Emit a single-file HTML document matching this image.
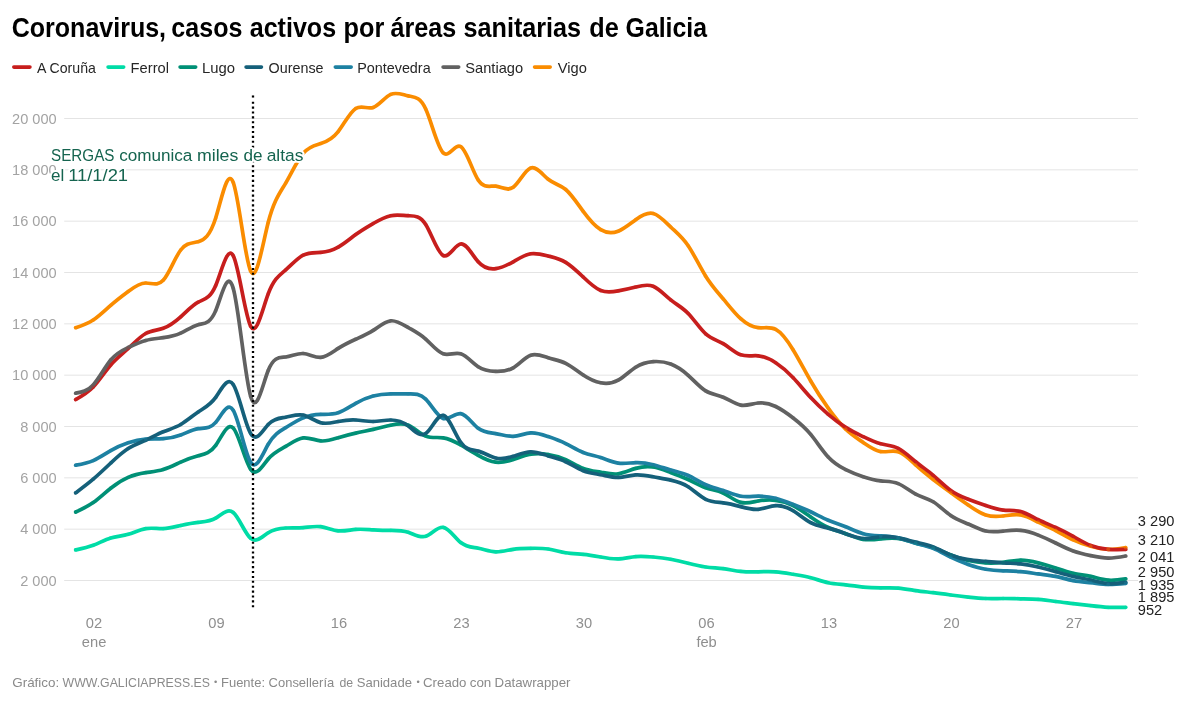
<!DOCTYPE html>
<html lang="es">
<head>
<meta charset="utf-8">
<title>Coronavirus, casos activos por áreas sanitarias de Galicia</title>
<style>
html,body{margin:0;padding:0;background:#fff;}
body{width:1199px;height:709px;overflow:hidden;}
svg{display:block;}
text{font-family:"Liberation Sans",sans-serif;}
.t{font-weight:bold;fill:#000;}
.lg{fill:#262626;}
.ax{fill:#a3a3a3;}
.axx{fill:#8f8f8f;}
.ft{fill:#8a8a8a;}
.vl{fill:#222;}
.an{fill:#15644f;}
</style>
</head>
<body>
<svg width="1199" height="709" viewBox="0 0 1199 709">
<rect width="1199" height="709" fill="#fff"/>
<text class="t" y="36.90" font-size="27.6"><tspan x="11.72" textLength="154.36" lengthAdjust="spacingAndGlyphs">Coronavirus,</tspan> <tspan x="171.32" textLength="71.10" lengthAdjust="spacingAndGlyphs">casos</tspan> <tspan x="249.71" textLength="86.41" lengthAdjust="spacingAndGlyphs">activos</tspan> <tspan x="343.52" textLength="40.74" lengthAdjust="spacingAndGlyphs">por</tspan> <tspan x="390.51" textLength="65.71" lengthAdjust="spacingAndGlyphs">áreas</tspan> <tspan x="463.51" textLength="117.61" lengthAdjust="spacingAndGlyphs">sanitarias</tspan> <tspan x="589.31" textLength="29.42" lengthAdjust="spacingAndGlyphs">de</tspan> <tspan x="625.62" textLength="81.42" lengthAdjust="spacingAndGlyphs">Galicia</tspan></text>
<line x1="13.80" y1="67.1" x2="29.95" y2="67.1" stroke="#c71e1d" stroke-width="3.6" stroke-linecap="round"/><text class="lg" y="72.80" font-size="14.4"><tspan x="37.00" textLength="58.91" lengthAdjust="spacingAndGlyphs">A Coruña</tspan></text>
<line x1="108.05" y1="67.1" x2="123.70" y2="67.1" stroke="#00dca6" stroke-width="3.6" stroke-linecap="round"/><text class="lg" y="72.80" font-size="14.4"><tspan x="130.60" textLength="38.37" lengthAdjust="spacingAndGlyphs">Ferrol</tspan></text>
<line x1="180.05" y1="67.1" x2="195.70" y2="67.1" stroke="#009076" stroke-width="3.6" stroke-linecap="round"/><text class="lg" y="72.80" font-size="14.4"><tspan x="202.09" textLength="33.01" lengthAdjust="spacingAndGlyphs">Lugo</tspan></text>
<line x1="246.05" y1="67.1" x2="261.45" y2="67.1" stroke="#15607a" stroke-width="3.6" stroke-linecap="round"/><text class="lg" y="72.80" font-size="14.4"><tspan x="268.58" textLength="55.00" lengthAdjust="spacingAndGlyphs">Ourense</tspan></text>
<line x1="335.30" y1="67.1" x2="351.20" y2="67.1" stroke="#1d81a2" stroke-width="3.6" stroke-linecap="round"/><text class="lg" y="72.80" font-size="14.4"><tspan x="357.13" textLength="73.53" lengthAdjust="spacingAndGlyphs">Pontevedra</tspan></text>
<line x1="443.05" y1="67.1" x2="458.70" y2="67.1" stroke="#616161" stroke-width="3.6" stroke-linecap="round"/><text class="lg" y="72.80" font-size="14.4"><tspan x="465.29" textLength="57.80" lengthAdjust="spacingAndGlyphs">Santiago</tspan></text>
<line x1="534.55" y1="67.1" x2="550.20" y2="67.1" stroke="#fa8c00" stroke-width="3.6" stroke-linecap="round"/><text class="lg" y="72.80" font-size="14.4"><tspan x="557.75" textLength="29.09" lengthAdjust="spacingAndGlyphs">Vigo</tspan></text>
<line x1="64.2" x2="1138" y1="580.50" y2="580.50" stroke="#e4e4e4" stroke-width="1"/><text class="ax" x="20.18" y="585.80" font-size="15.0" textLength="36.49" lengthAdjust="spacingAndGlyphs">2 000</text>
<line x1="64.2" x2="1138" y1="529.17" y2="529.17" stroke="#e4e4e4" stroke-width="1"/><text class="ax" x="20.18" y="534.47" font-size="15.0" textLength="36.49" lengthAdjust="spacingAndGlyphs">4 000</text>
<line x1="64.2" x2="1138" y1="477.83" y2="477.83" stroke="#e4e4e4" stroke-width="1"/><text class="ax" x="20.18" y="483.13" font-size="15.0" textLength="36.49" lengthAdjust="spacingAndGlyphs">6 000</text>
<line x1="64.2" x2="1138" y1="426.50" y2="426.50" stroke="#e4e4e4" stroke-width="1"/><text class="ax" x="20.18" y="431.80" font-size="15.0" textLength="36.49" lengthAdjust="spacingAndGlyphs">8 000</text>
<line x1="64.2" x2="1138" y1="375.16" y2="375.16" stroke="#e4e4e4" stroke-width="1"/><text class="ax" x="12.07" y="380.46" font-size="15.0" textLength="44.60" lengthAdjust="spacingAndGlyphs">10 000</text>
<line x1="64.2" x2="1138" y1="323.83" y2="323.83" stroke="#e4e4e4" stroke-width="1"/><text class="ax" x="12.07" y="329.13" font-size="15.0" textLength="44.60" lengthAdjust="spacingAndGlyphs">12 000</text>
<line x1="64.2" x2="1138" y1="272.50" y2="272.50" stroke="#e4e4e4" stroke-width="1"/><text class="ax" x="12.07" y="277.80" font-size="15.0" textLength="44.60" lengthAdjust="spacingAndGlyphs">14 000</text>
<line x1="64.2" x2="1138" y1="221.16" y2="221.16" stroke="#e4e4e4" stroke-width="1"/><text class="ax" x="12.07" y="226.46" font-size="15.0" textLength="44.60" lengthAdjust="spacingAndGlyphs">16 000</text>
<line x1="64.2" x2="1138" y1="169.83" y2="169.83" stroke="#e4e4e4" stroke-width="1"/><text class="ax" x="12.07" y="175.13" font-size="15.0" textLength="44.60" lengthAdjust="spacingAndGlyphs">18 000</text>
<line x1="64.2" x2="1138" y1="118.49" y2="118.49" stroke="#e4e4e4" stroke-width="1"/><text class="ax" x="12.07" y="123.79" font-size="15.0" textLength="44.60" lengthAdjust="spacingAndGlyphs">20 000</text>
<text class="axx" x="94.00" y="628.1" font-size="14.7" text-anchor="middle">02</text><text class="axx" x="216.50" y="628.1" font-size="14.7" text-anchor="middle">09</text><text class="axx" x="339.00" y="628.1" font-size="14.7" text-anchor="middle">16</text><text class="axx" x="461.50" y="628.1" font-size="14.7" text-anchor="middle">23</text><text class="axx" x="584.00" y="628.1" font-size="14.7" text-anchor="middle">30</text><text class="axx" x="706.50" y="628.1" font-size="14.7" text-anchor="middle">06</text><text class="axx" x="829.00" y="628.1" font-size="14.7" text-anchor="middle">13</text><text class="axx" x="951.50" y="628.1" font-size="14.7" text-anchor="middle">20</text><text class="axx" x="1074.00" y="628.1" font-size="14.7" text-anchor="middle">27</text><text class="axx" x="94.10" y="646.7" font-size="14.7" text-anchor="middle">ene</text><text class="axx" x="706.60" y="646.7" font-size="14.7" text-anchor="middle">feb</text>
<path d="M75.7,549.9C81.5,548.7,87.4,547.5,93.2,545.3C99.0,543.1,104.9,539.8,110.7,538.0C116.5,536.2,122.4,536.0,128.2,534.3C134.0,532.6,139.9,529.6,145.7,528.6C151.5,527.6,157.4,528.8,163.2,528.6C169.0,528.4,174.9,526.8,180.7,525.5C186.5,524.2,192.4,523.0,198.2,522.4C204.0,521.8,209.9,521.7,215.7,518.2C221.5,514.7,227.4,507.8,233.2,512.5C239.0,517.2,244.9,533.6,250.7,538.4C256.5,543.2,262.4,536.5,268.2,532.8C274.0,529.1,279.9,528.3,285.7,528.0C291.5,527.7,297.4,528.1,303.2,527.6C309.0,527.1,314.9,525.9,320.7,526.7C326.5,527.5,332.4,530.2,338.2,530.8C344.0,531.4,349.9,529.9,355.7,529.4C361.5,528.9,367.4,529.5,373.2,529.8C379.0,530.1,384.9,530.3,390.7,530.3C396.5,530.3,402.4,530.2,408.2,532.2C414.0,534.2,419.9,538.2,425.7,536.3C431.5,534.4,437.4,526.5,443.2,527.3C449.0,528.1,454.9,537.8,460.7,542.5C466.5,547.2,472.4,547.1,478.2,548.2C484.0,549.3,489.9,551.6,495.7,551.8C501.5,552.0,507.4,550.2,513.2,549.3C519.0,548.4,524.9,548.4,530.7,548.3C536.5,548.2,542.4,548.1,548.2,549.0C554.0,549.9,559.9,551.8,565.7,552.8C571.5,553.8,577.4,553.8,583.2,554.3C589.0,554.8,594.9,555.9,600.7,557.0C606.5,558.1,612.4,559.1,618.2,558.9C624.0,558.7,629.9,557.2,635.7,556.6C641.5,556.0,647.4,556.5,653.2,557.0C659.0,557.5,664.9,558.2,670.7,559.3C676.5,560.4,682.4,561.8,688.2,563.3C694.0,564.8,699.9,566.2,705.7,567.0C711.5,567.8,717.4,568.0,723.2,568.7C729.0,569.4,734.9,570.8,740.7,571.4C746.5,572.0,752.4,572.0,758.2,571.8C764.0,571.6,769.9,571.4,775.7,571.8C781.5,572.2,787.4,573.3,793.2,574.3C799.0,575.3,804.9,576.2,810.7,577.7C816.5,579.2,822.4,581.5,828.2,582.7C834.0,583.9,839.9,584.2,845.7,584.8C851.5,585.4,857.4,586.5,863.2,587.1C869.0,587.7,874.9,587.9,880.7,587.9C886.5,587.9,892.4,587.6,898.2,588.1C904.0,588.6,909.9,589.7,915.7,590.6C921.5,591.5,927.4,592.0,933.2,592.7C939.0,593.4,944.9,594.2,950.7,595.0C956.5,595.8,962.4,596.5,968.2,597.1C974.0,597.7,979.9,598.3,985.7,598.5C991.5,598.7,997.4,598.5,1003.2,598.5C1009.0,598.5,1014.9,598.7,1020.7,598.8C1026.5,598.9,1032.4,598.9,1038.2,599.4C1044.0,599.9,1049.9,600.7,1055.7,601.5C1061.5,602.3,1067.4,602.9,1073.2,603.6C1079.0,604.3,1084.9,604.9,1090.7,605.6C1096.5,606.3,1102.4,607.0,1108.2,607.3C1114.0,607.6,1119.9,607.4,1125.7,607.3" fill="none" stroke="#00dca6" stroke-width="3.7" stroke-linecap="round" stroke-linejoin="round"/>
<path d="M75.7,327.7C81.5,325.8,87.4,323.8,93.2,320.0C99.0,316.2,104.9,310.4,110.7,305.3C116.5,300.2,122.4,295.7,128.2,291.4C134.0,287.1,139.9,283.1,145.7,283.0C151.5,282.9,157.4,286.6,163.2,280.3C169.0,274.0,174.9,257.7,180.7,250.0C186.5,242.3,192.4,243.2,198.2,241.7C204.0,240.2,209.9,236.2,215.7,218.0C221.5,199.8,227.4,167.4,233.2,182.3C239.0,197.2,244.9,259.2,250.7,271.2C256.5,283.2,262.4,245.0,268.2,222.5C274.0,200.0,279.9,193.0,285.7,183.1C291.5,173.2,297.4,160.2,303.2,153.3C309.0,146.4,314.9,145.4,320.7,143.6C326.5,141.8,332.4,139.0,338.2,131.6C344.0,124.2,349.9,112.2,355.7,108.5C361.5,104.8,367.4,109.4,373.2,107.5C379.0,105.6,384.9,97.1,390.7,94.4C396.5,91.7,402.4,94.7,408.2,95.9C414.0,97.1,419.9,96.4,425.7,109.0C431.5,121.6,437.4,147.3,443.2,152.8C449.0,158.3,454.9,143.4,460.7,146.6C466.5,149.8,472.4,171.1,478.2,180.0C484.0,188.9,489.9,185.6,495.7,186.2C501.5,186.8,507.4,191.5,513.2,187.3C519.0,183.1,524.9,170.1,530.7,168.0C536.5,165.9,542.4,174.6,548.2,179.3C554.0,184.0,559.9,184.6,565.7,189.5C571.5,194.4,577.4,203.5,583.2,211.4C589.0,219.3,594.9,226.2,600.7,229.7C606.5,233.2,612.4,233.5,618.2,231.2C624.0,228.9,629.9,223.9,635.7,219.7C641.5,215.5,647.4,212.0,653.2,213.5C659.0,215.0,664.9,221.4,670.7,227.0C676.5,232.6,682.4,237.2,688.2,245.8C694.0,254.4,699.9,266.8,705.7,276.2C711.5,285.6,717.4,292.0,723.2,298.9C729.0,305.8,734.9,313.4,740.7,318.7C746.5,324.0,752.4,327.1,758.2,327.7C764.0,328.3,769.9,326.4,775.7,329.4C781.5,332.4,787.4,340.4,793.2,350.0C799.0,359.6,804.9,370.9,810.7,381.0C816.5,391.1,822.4,400.0,828.2,408.1C834.0,416.2,839.9,423.6,845.7,429.2C851.5,434.8,857.4,438.5,863.2,442.5C869.0,446.5,874.9,450.7,880.7,451.6C886.5,452.5,892.4,450.0,898.2,451.8C904.0,453.6,909.9,459.5,915.7,464.9C921.5,470.3,927.4,475.0,933.2,479.5C939.0,484.0,944.9,488.3,950.7,492.5C956.5,496.7,962.4,500.9,968.2,505.0C974.0,509.1,979.9,513.1,985.7,515.0C991.5,516.9,997.4,516.7,1003.2,516.0C1009.0,515.3,1014.9,514.0,1020.7,515.0C1026.5,516.0,1032.4,519.3,1038.2,522.2C1044.0,525.1,1049.9,527.5,1055.7,530.5C1061.5,533.5,1067.4,537.1,1073.2,539.9C1079.0,542.7,1084.9,544.6,1090.7,546.2C1096.5,547.8,1102.4,549.1,1108.2,549.3C1114.0,549.5,1119.9,548.5,1125.7,547.6" fill="none" stroke="#fa8c00" stroke-width="3.7" stroke-linecap="round" stroke-linejoin="round"/>
<path d="M75.7,512.0C81.5,509.4,87.4,506.7,93.2,502.6C99.0,498.5,104.9,492.8,110.7,488.2C116.5,483.6,122.4,479.9,128.2,477.4C134.0,474.9,139.9,473.6,145.7,472.7C151.5,471.8,157.4,471.3,163.2,469.5C169.0,467.7,174.9,464.7,180.7,462.1C186.5,459.5,192.4,457.3,198.2,455.8C204.0,454.3,209.9,453.5,215.7,445.4C221.5,437.3,227.4,422.0,233.2,428.0C239.0,434.0,244.9,461.3,250.7,469.3C256.5,477.3,262.4,465.9,268.2,459.0C274.0,452.1,279.9,449.8,285.7,446.4C291.5,443.0,297.4,438.6,303.2,437.9C309.0,437.2,314.9,440.3,320.7,440.9C326.5,441.5,332.4,439.5,338.2,437.7C344.0,435.9,349.9,434.4,355.7,433.1C361.5,431.8,367.4,430.7,373.2,429.4C379.0,428.1,384.9,426.5,390.7,425.2C396.5,423.9,402.4,422.7,408.2,425.2C414.0,427.7,419.9,433.8,425.7,436.1C431.5,438.4,437.4,437.0,443.2,437.8C449.0,438.6,454.9,441.6,460.7,445.0C466.5,448.4,472.4,452.0,478.2,455.3C484.0,458.6,489.9,461.5,495.7,462.2C501.5,462.9,507.4,461.4,513.2,459.5C519.0,457.6,524.9,455.3,530.7,454.3C536.5,453.3,542.4,453.6,548.2,454.5C554.0,455.4,559.9,456.9,565.7,459.6C571.5,462.3,577.4,466.2,583.2,468.4C589.0,470.6,594.9,471.2,600.7,472.2C606.5,473.2,612.4,474.6,618.2,473.8C624.0,473.0,629.9,470.1,635.7,468.4C641.5,466.7,647.4,466.1,653.2,467.0C659.0,467.9,664.9,470.4,670.7,472.6C676.5,474.8,682.4,476.8,688.2,479.5C694.0,482.2,699.9,485.8,705.7,487.8C711.5,489.8,717.4,490.2,723.2,493.0C729.0,495.8,734.9,500.8,740.7,502.4C746.5,504.0,752.4,502.1,758.2,501.0C764.0,499.9,769.9,499.6,775.7,500.3C781.5,501.0,787.4,502.6,793.2,505.6C799.0,508.6,804.9,512.9,810.7,517.0C816.5,521.1,822.4,524.9,828.2,527.5C834.0,530.1,839.9,531.6,845.7,533.7C851.5,535.8,857.4,538.5,863.2,539.4C869.0,540.3,874.9,539.6,880.7,538.9C886.5,538.2,892.4,537.7,898.2,538.5C904.0,539.3,909.9,541.5,915.7,543.1C921.5,544.7,927.4,545.7,933.2,547.7C939.0,549.7,944.9,552.6,950.7,555.0C956.5,557.4,962.4,559.2,968.2,560.5C974.0,561.8,979.9,562.6,985.7,562.9C991.5,563.2,997.4,563.0,1003.2,562.3C1009.0,561.6,1014.9,560.2,1020.7,560.2C1026.5,560.2,1032.4,561.4,1038.2,562.9C1044.0,564.4,1049.9,566.2,1055.7,568.1C1061.5,570.0,1067.4,572.0,1073.2,573.3C1079.0,574.6,1084.9,575.1,1090.7,576.4C1096.5,577.7,1102.4,579.7,1108.2,580.2C1114.0,580.7,1119.9,579.8,1125.7,578.9" fill="none" stroke="#009076" stroke-width="3.7" stroke-linecap="round" stroke-linejoin="round"/>
<path d="M75.7,465.2C81.5,464.2,87.4,463.2,93.2,460.6C99.0,458.0,104.9,454.0,110.7,450.6C116.5,447.2,122.4,444.6,128.2,442.7C134.0,440.8,139.9,439.5,145.7,439.1C151.5,438.7,157.4,439.1,163.2,438.7C169.0,438.3,174.9,437.2,180.7,435.0C186.5,432.8,192.4,429.6,198.2,428.7C204.0,427.8,209.9,429.2,215.7,422.4C221.5,415.6,227.4,400.8,233.2,410.3C239.0,419.8,244.9,453.8,250.7,462.4C256.5,471.0,262.4,454.3,268.2,444.3C274.0,434.3,279.9,431.1,285.7,427.6C291.5,424.1,297.4,420.3,303.2,417.9C309.0,415.5,314.9,414.6,320.7,414.4C326.5,414.2,332.4,414.6,338.2,412.7C344.0,410.8,349.9,406.6,355.7,403.3C361.5,400.0,367.4,397.5,373.2,396.0C379.0,394.5,384.9,394.0,390.7,393.9C396.5,393.8,402.4,394.0,408.2,393.9C414.0,393.8,419.9,393.4,425.7,399.1C431.5,404.8,437.4,416.5,443.2,418.5C449.0,420.5,454.9,412.9,460.7,413.7C466.5,414.5,472.4,423.8,478.2,428.3C484.0,432.8,489.9,432.7,495.7,433.6C501.5,434.5,507.4,436.6,513.2,436.3C519.0,436.0,524.9,433.3,530.7,432.9C536.5,432.5,542.4,434.6,548.2,436.6C554.0,438.6,559.9,440.7,565.7,443.6C571.5,446.5,577.4,450.2,583.2,452.5C589.0,454.8,594.9,455.7,600.7,457.6C606.5,459.5,612.4,462.3,618.2,463.1C624.0,463.9,629.9,462.8,635.7,462.6C641.5,462.4,647.4,463.2,653.2,464.7C659.0,466.2,664.9,468.3,670.7,470.0C676.5,471.7,682.4,472.9,688.2,475.5C694.0,478.1,699.9,482.1,705.7,484.7C711.5,487.3,717.4,488.5,723.2,490.5C729.0,492.5,734.9,495.2,740.7,496.2C746.5,497.2,752.4,496.3,758.2,496.2C764.0,496.1,769.9,496.8,775.7,498.3C781.5,499.8,787.4,502.2,793.2,504.5C799.0,506.8,804.9,509.1,810.7,511.8C816.5,514.5,822.4,517.7,828.2,520.2C834.0,522.7,839.9,524.4,845.7,526.8C851.5,529.2,857.4,532.1,863.2,533.7C869.0,535.3,874.9,535.5,880.7,535.8C886.5,536.1,892.4,536.6,898.2,537.9C904.0,539.2,909.9,541.4,915.7,543.1C921.5,544.8,927.4,545.9,933.2,548.3C939.0,550.7,944.9,554.3,950.7,557.2C956.5,560.1,962.4,562.4,968.2,564.4C974.0,566.4,979.9,568.2,985.7,569.2C991.5,570.2,997.4,570.6,1003.2,570.8C1009.0,571.0,1014.9,571.1,1020.7,571.6C1026.5,572.1,1032.4,573.1,1038.2,573.9C1044.0,574.7,1049.9,575.2,1055.7,576.4C1061.5,577.6,1067.4,579.5,1073.2,580.6C1079.0,581.7,1084.9,582.1,1090.7,582.7C1096.5,583.3,1102.4,584.3,1108.2,584.4C1114.0,584.5,1119.9,583.9,1125.7,583.3" fill="none" stroke="#1d81a2" stroke-width="3.7" stroke-linecap="round" stroke-linejoin="round"/>
<path d="M75.7,399.5C81.5,396.3,87.4,393.1,93.2,387.0C99.0,380.9,104.9,371.7,110.7,365.0C116.5,358.3,122.4,353.9,128.2,348.5C134.0,343.1,139.9,336.7,145.7,333.5C151.5,330.3,157.4,330.4,163.2,328.3C169.0,326.2,174.9,322.0,180.7,316.8C186.5,311.6,192.4,305.3,198.2,302.2C204.0,299.1,209.9,299.1,215.7,285.5C221.5,271.9,227.4,244.8,233.2,255.7C239.0,266.6,244.9,315.6,250.7,326.3C256.5,337.0,262.4,309.4,268.2,293.9C274.0,278.4,279.9,274.9,285.7,269.9C291.5,264.9,297.4,258.2,303.2,255.2C309.0,252.2,314.9,252.8,320.7,252.4C326.5,252.0,332.4,250.5,338.2,247.2C344.0,243.9,349.9,238.9,355.7,234.6C361.5,230.3,367.4,226.9,373.2,223.5C379.0,220.1,384.9,216.9,390.7,215.7C396.5,214.5,402.4,215.5,408.2,215.7C414.0,215.9,419.9,215.3,425.7,224.5C431.5,233.7,437.4,252.7,443.2,255.5C449.0,258.3,454.9,244.8,460.7,244.0C466.5,243.2,472.4,255.2,478.2,261.8C484.0,268.4,489.9,269.5,495.7,268.7C501.5,267.9,507.4,265.1,513.2,261.8C519.0,258.5,524.9,254.8,530.7,253.8C536.5,252.8,542.4,254.5,548.2,256.0C554.0,257.5,559.9,258.8,565.7,262.3C571.5,265.8,577.4,271.4,583.2,277.0C589.0,282.6,594.9,288.2,600.7,290.5C606.5,292.8,612.4,292.0,618.2,290.9C624.0,289.8,629.9,288.5,635.7,287.0C641.5,285.5,647.4,283.9,653.2,286.3C659.0,288.7,664.9,295.2,670.7,299.9C676.5,304.6,682.4,307.5,688.2,313.5C694.0,319.5,699.9,328.7,705.7,333.9C711.5,339.1,717.4,340.3,723.2,343.7C729.0,347.1,734.9,352.8,740.7,354.8C746.5,356.8,752.4,355.3,758.2,355.8C764.0,356.3,769.9,359.0,775.7,362.8C781.5,366.6,787.4,371.6,793.2,377.8C799.0,384.0,804.9,391.3,810.7,397.6C816.5,403.9,822.4,409.4,828.2,414.3C834.0,419.2,839.9,423.7,845.7,427.4C851.5,431.1,857.4,433.9,863.2,436.7C869.0,439.5,874.9,442.3,880.7,443.8C886.5,445.3,892.4,445.4,898.2,448.3C904.0,451.2,909.9,456.9,915.7,461.7C921.5,466.5,927.4,470.4,933.2,475.3C939.0,480.2,944.9,486.2,950.7,490.4C956.5,494.6,962.4,497.0,968.2,499.2C974.0,501.4,979.9,503.5,985.7,505.5C991.5,507.5,997.4,509.5,1003.2,510.1C1009.0,510.7,1014.9,510.1,1020.7,511.6C1026.5,513.1,1032.4,516.8,1038.2,519.7C1044.0,522.6,1049.9,524.8,1055.7,527.4C1061.5,530.0,1067.4,533.1,1073.2,536.4C1079.0,539.7,1084.9,543.2,1090.7,545.5C1096.5,547.8,1102.4,548.9,1108.2,549.3C1114.0,549.7,1119.9,549.6,1125.7,549.4" fill="none" stroke="#c71e1d" stroke-width="3.7" stroke-linecap="round" stroke-linejoin="round"/>
<path d="M75.7,393.2C81.5,392.2,87.4,391.2,93.2,384.9C99.0,378.6,104.9,367.1,110.7,360.0C116.5,352.9,122.4,350.2,128.2,347.5C134.0,344.8,139.9,342.1,145.7,340.5C151.5,338.9,157.4,338.5,163.2,337.7C169.0,336.9,174.9,335.8,180.7,333.1C186.5,330.4,192.4,326.2,198.2,324.7C204.0,323.2,209.9,324.4,215.7,310.6C221.5,296.8,227.4,268.1,233.2,288.2C239.0,308.3,244.9,377.3,250.7,396.5C256.5,415.7,262.4,385.0,268.2,370.5C274.0,356.0,279.9,357.7,285.7,357.0C291.5,356.3,297.4,353.1,303.2,353.5C309.0,353.9,314.9,357.8,320.7,357.4C326.5,357.0,332.4,352.2,338.2,348.4C344.0,344.6,349.9,341.8,355.7,339.2C361.5,336.6,367.4,334.2,373.2,330.4C379.0,326.6,384.9,321.4,390.7,320.8C396.5,320.2,402.4,324.1,408.2,327.5C414.0,330.9,419.9,333.9,425.7,339.1C431.5,344.3,437.4,351.9,443.2,353.8C449.0,355.7,454.9,352.0,460.7,353.8C466.5,355.6,472.4,362.9,478.2,366.8C484.0,370.7,489.9,371.2,495.7,371.4C501.5,371.6,507.4,371.3,513.2,367.8C519.0,364.3,524.9,357.4,530.7,355.3C536.5,353.2,542.4,356.0,548.2,357.8C554.0,359.6,559.9,360.4,565.7,363.3C571.5,366.2,577.4,371.1,583.2,375.0C589.0,378.9,594.9,381.7,600.7,382.8C606.5,383.9,612.4,383.4,618.2,380.1C624.0,376.8,629.9,370.9,635.7,367.2C641.5,363.5,647.4,362.0,653.2,361.6C659.0,361.2,664.9,361.8,670.7,364.0C676.5,366.2,682.4,370.0,688.2,375.3C694.0,380.6,699.9,387.3,705.7,390.9C711.5,394.5,717.4,394.8,723.2,397.2C729.0,399.6,734.9,404.1,740.7,405.1C746.5,406.1,752.4,403.6,758.2,403.0C764.0,402.4,769.9,403.7,775.7,406.5C781.5,409.3,787.4,413.5,793.2,418.0C799.0,422.5,804.9,427.4,810.7,434.4C816.5,441.4,822.4,450.7,828.2,457.0C834.0,463.3,839.9,466.8,845.7,469.7C851.5,472.6,857.4,474.9,863.2,476.8C869.0,478.7,874.9,480.3,880.7,480.9C886.5,481.5,892.4,481.2,898.2,483.6C904.0,486.0,909.9,491.0,915.7,494.1C921.5,497.2,927.4,498.2,933.2,501.8C939.0,505.4,944.9,511.5,950.7,515.5C956.5,519.5,962.4,521.5,968.2,524.0C974.0,526.5,979.9,529.7,985.7,531.0C991.5,532.3,997.4,531.7,1003.2,531.1C1009.0,530.5,1014.9,529.8,1020.7,530.4C1026.5,531.0,1032.4,532.8,1038.2,535.1C1044.0,537.4,1049.9,540.1,1055.7,543.0C1061.5,545.9,1067.4,548.9,1073.2,551.0C1079.0,553.1,1084.9,554.4,1090.7,555.6C1096.5,556.8,1102.4,558.0,1108.2,558.1C1114.0,558.2,1119.9,557.1,1125.7,556.0" fill="none" stroke="#616161" stroke-width="3.7" stroke-linecap="round" stroke-linejoin="round"/>
<path d="M75.7,492.8C81.5,488.5,87.4,484.2,93.2,479.2C99.0,474.2,104.9,468.6,110.7,463.1C116.5,457.6,122.4,452.2,128.2,448.5C134.0,444.8,139.9,442.8,145.7,440.2C151.5,437.6,157.4,434.2,163.2,431.8C169.0,429.4,174.9,427.9,180.7,424.5C186.5,421.1,192.4,415.9,198.2,412.0C204.0,408.1,209.9,405.5,215.7,397.4C221.5,389.3,227.4,375.8,233.2,384.5C239.0,393.2,244.9,424.2,250.7,433.6C256.5,443.0,262.4,430.7,268.2,424.5C274.0,418.3,279.9,418.3,285.7,417.2C291.5,416.1,297.4,413.8,303.2,415.1C309.0,416.4,314.9,421.1,320.7,422.7C326.5,424.3,332.4,422.6,338.2,421.5C344.0,420.4,349.9,419.7,355.7,420.0C361.5,420.3,367.4,421.6,373.2,421.5C379.0,421.4,384.9,420.0,390.7,420.0C396.5,420.0,402.4,421.4,408.2,425.8C414.0,430.2,419.9,437.6,425.7,433.6C431.5,429.6,437.4,414.3,443.2,415.4C449.0,416.5,454.9,434.0,460.7,442.3C466.5,450.6,472.4,449.6,478.2,451.1C484.0,452.6,489.9,456.6,495.7,458.0C501.5,459.4,507.4,458.2,513.2,456.3C519.0,454.4,524.9,451.9,530.7,451.8C536.5,451.7,542.4,454.1,548.2,455.9C554.0,457.7,559.9,459.0,565.7,461.7C571.5,464.4,577.4,468.4,583.2,470.7C589.0,473.0,594.9,473.6,600.7,474.7C606.5,475.8,612.4,477.5,618.2,477.4C624.0,477.3,629.9,475.3,635.7,474.9C641.5,474.5,647.4,475.7,653.2,476.8C659.0,477.9,664.9,478.8,670.7,480.1C676.5,481.4,682.4,483.0,688.2,486.8C694.0,490.6,699.9,496.4,705.7,499.3C711.5,502.2,717.4,502.1,723.2,502.8C729.0,503.5,734.9,505.0,740.7,506.6C746.5,508.2,752.4,509.8,758.2,509.3C764.0,508.8,769.9,506.0,775.7,505.6C781.5,505.2,787.4,507.2,793.2,510.8C799.0,514.4,804.9,519.6,810.7,522.7C816.5,525.8,822.4,526.6,828.2,528.1C834.0,529.6,839.9,531.6,845.7,533.7C851.5,535.8,857.4,538.1,863.2,538.5C869.0,538.9,874.9,537.4,880.7,536.9C886.5,536.4,892.4,536.8,898.2,537.9C904.0,539.0,909.9,540.7,915.7,542.1C921.5,543.5,927.4,544.6,933.2,546.9C939.0,549.2,944.9,552.6,950.7,555.0C956.5,557.4,962.4,558.8,968.2,559.7C974.0,560.6,979.9,560.9,985.7,561.4C991.5,561.9,997.4,562.5,1003.2,562.9C1009.0,563.3,1014.9,563.3,1020.7,563.9C1026.5,564.5,1032.4,565.6,1038.2,567.0C1044.0,568.4,1049.9,569.9,1055.7,571.6C1061.5,573.3,1067.4,575.1,1073.2,576.4C1079.0,577.7,1084.9,578.6,1090.7,580.0C1096.5,581.4,1102.4,583.2,1108.2,583.7C1114.0,584.2,1119.9,583.2,1125.7,582.3" fill="none" stroke="#15607a" stroke-width="3.7" stroke-linecap="round" stroke-linejoin="round"/>
<g fill="#c71e1d" opacity="0.4"><circle cx="75.7" cy="399.5" r="1.9"/><circle cx="93.2" cy="387.0" r="1.9"/><circle cx="110.7" cy="365.0" r="1.9"/><circle cx="128.2" cy="348.5" r="1.9"/><circle cx="145.7" cy="333.5" r="1.9"/><circle cx="163.2" cy="328.3" r="1.9"/><circle cx="180.7" cy="316.8" r="1.9"/><circle cx="198.2" cy="302.2" r="1.9"/><circle cx="215.7" cy="285.5" r="1.9"/><circle cx="233.2" cy="255.7" r="1.9"/><circle cx="250.7" cy="326.3" r="1.9"/><circle cx="268.2" cy="293.9" r="1.9"/><circle cx="285.7" cy="269.9" r="1.9"/><circle cx="303.2" cy="255.2" r="1.9"/><circle cx="320.7" cy="252.4" r="1.9"/><circle cx="338.2" cy="247.2" r="1.9"/><circle cx="355.7" cy="234.6" r="1.9"/><circle cx="373.2" cy="223.5" r="1.9"/><circle cx="390.7" cy="215.7" r="1.9"/><circle cx="408.2" cy="215.7" r="1.9"/><circle cx="425.7" cy="224.5" r="1.9"/><circle cx="443.2" cy="255.5" r="1.9"/><circle cx="460.7" cy="244.0" r="1.9"/><circle cx="478.2" cy="261.8" r="1.9"/><circle cx="495.7" cy="268.7" r="1.9"/><circle cx="513.2" cy="261.8" r="1.9"/><circle cx="530.7" cy="253.8" r="1.9"/><circle cx="548.2" cy="256.0" r="1.9"/><circle cx="565.7" cy="262.3" r="1.9"/><circle cx="583.2" cy="277.0" r="1.9"/><circle cx="600.7" cy="290.5" r="1.9"/><circle cx="618.2" cy="290.9" r="1.9"/><circle cx="635.7" cy="287.0" r="1.9"/><circle cx="653.2" cy="286.3" r="1.9"/><circle cx="670.7" cy="299.9" r="1.9"/><circle cx="688.2" cy="313.5" r="1.9"/><circle cx="705.7" cy="333.9" r="1.9"/><circle cx="723.2" cy="343.7" r="1.9"/><circle cx="740.7" cy="354.8" r="1.9"/><circle cx="758.2" cy="355.8" r="1.9"/><circle cx="775.7" cy="362.8" r="1.9"/><circle cx="793.2" cy="377.8" r="1.9"/><circle cx="810.7" cy="397.6" r="1.9"/><circle cx="828.2" cy="414.3" r="1.9"/><circle cx="845.7" cy="427.4" r="1.9"/><circle cx="863.2" cy="436.7" r="1.9"/><circle cx="880.7" cy="443.8" r="1.9"/><circle cx="898.2" cy="448.3" r="1.9"/><circle cx="915.7" cy="461.7" r="1.9"/><circle cx="933.2" cy="475.3" r="1.9"/><circle cx="950.7" cy="490.4" r="1.9"/><circle cx="968.2" cy="499.2" r="1.9"/><circle cx="985.7" cy="505.5" r="1.9"/><circle cx="1003.2" cy="510.1" r="1.9"/><circle cx="1020.7" cy="511.6" r="1.9"/><circle cx="1038.2" cy="519.7" r="1.9"/><circle cx="1055.7" cy="527.4" r="1.9"/><circle cx="1073.2" cy="536.4" r="1.9"/><circle cx="1090.7" cy="545.5" r="1.9"/><circle cx="1108.2" cy="549.3" r="1.9"/><circle cx="1125.7" cy="549.4" r="1.9"/></g>
<g fill="#00dca6" opacity="0.4"><circle cx="75.7" cy="549.9" r="1.9"/><circle cx="93.2" cy="545.3" r="1.9"/><circle cx="110.7" cy="538.0" r="1.9"/><circle cx="128.2" cy="534.3" r="1.9"/><circle cx="145.7" cy="528.6" r="1.9"/><circle cx="163.2" cy="528.6" r="1.9"/><circle cx="180.7" cy="525.5" r="1.9"/><circle cx="198.2" cy="522.4" r="1.9"/><circle cx="215.7" cy="518.2" r="1.9"/><circle cx="233.2" cy="512.5" r="1.9"/><circle cx="250.7" cy="538.4" r="1.9"/><circle cx="268.2" cy="532.8" r="1.9"/><circle cx="285.7" cy="528.0" r="1.9"/><circle cx="303.2" cy="527.6" r="1.9"/><circle cx="320.7" cy="526.7" r="1.9"/><circle cx="338.2" cy="530.8" r="1.9"/><circle cx="355.7" cy="529.4" r="1.9"/><circle cx="373.2" cy="529.8" r="1.9"/><circle cx="390.7" cy="530.3" r="1.9"/><circle cx="408.2" cy="532.2" r="1.9"/><circle cx="425.7" cy="536.3" r="1.9"/><circle cx="443.2" cy="527.3" r="1.9"/><circle cx="460.7" cy="542.5" r="1.9"/><circle cx="478.2" cy="548.2" r="1.9"/><circle cx="495.7" cy="551.8" r="1.9"/><circle cx="513.2" cy="549.3" r="1.9"/><circle cx="530.7" cy="548.3" r="1.9"/><circle cx="548.2" cy="549.0" r="1.9"/><circle cx="565.7" cy="552.8" r="1.9"/><circle cx="583.2" cy="554.3" r="1.9"/><circle cx="600.7" cy="557.0" r="1.9"/><circle cx="618.2" cy="558.9" r="1.9"/><circle cx="635.7" cy="556.6" r="1.9"/><circle cx="653.2" cy="557.0" r="1.9"/><circle cx="670.7" cy="559.3" r="1.9"/><circle cx="688.2" cy="563.3" r="1.9"/><circle cx="705.7" cy="567.0" r="1.9"/><circle cx="723.2" cy="568.7" r="1.9"/><circle cx="740.7" cy="571.4" r="1.9"/><circle cx="758.2" cy="571.8" r="1.9"/><circle cx="775.7" cy="571.8" r="1.9"/><circle cx="793.2" cy="574.3" r="1.9"/><circle cx="810.7" cy="577.7" r="1.9"/><circle cx="828.2" cy="582.7" r="1.9"/><circle cx="845.7" cy="584.8" r="1.9"/><circle cx="863.2" cy="587.1" r="1.9"/><circle cx="880.7" cy="587.9" r="1.9"/><circle cx="898.2" cy="588.1" r="1.9"/><circle cx="915.7" cy="590.6" r="1.9"/><circle cx="933.2" cy="592.7" r="1.9"/><circle cx="950.7" cy="595.0" r="1.9"/><circle cx="968.2" cy="597.1" r="1.9"/><circle cx="985.7" cy="598.5" r="1.9"/><circle cx="1003.2" cy="598.5" r="1.9"/><circle cx="1020.7" cy="598.8" r="1.9"/><circle cx="1038.2" cy="599.4" r="1.9"/><circle cx="1055.7" cy="601.5" r="1.9"/><circle cx="1073.2" cy="603.6" r="1.9"/><circle cx="1090.7" cy="605.6" r="1.9"/><circle cx="1108.2" cy="607.3" r="1.9"/><circle cx="1125.7" cy="607.3" r="1.9"/></g>
<g fill="#009076" opacity="0.4"><circle cx="75.7" cy="512.0" r="1.9"/><circle cx="93.2" cy="502.6" r="1.9"/><circle cx="110.7" cy="488.2" r="1.9"/><circle cx="128.2" cy="477.4" r="1.9"/><circle cx="145.7" cy="472.7" r="1.9"/><circle cx="163.2" cy="469.5" r="1.9"/><circle cx="180.7" cy="462.1" r="1.9"/><circle cx="198.2" cy="455.8" r="1.9"/><circle cx="215.7" cy="445.4" r="1.9"/><circle cx="233.2" cy="428.0" r="1.9"/><circle cx="250.7" cy="469.3" r="1.9"/><circle cx="268.2" cy="459.0" r="1.9"/><circle cx="285.7" cy="446.4" r="1.9"/><circle cx="303.2" cy="437.9" r="1.9"/><circle cx="320.7" cy="440.9" r="1.9"/><circle cx="338.2" cy="437.7" r="1.9"/><circle cx="355.7" cy="433.1" r="1.9"/><circle cx="373.2" cy="429.4" r="1.9"/><circle cx="390.7" cy="425.2" r="1.9"/><circle cx="408.2" cy="425.2" r="1.9"/><circle cx="425.7" cy="436.1" r="1.9"/><circle cx="443.2" cy="437.8" r="1.9"/><circle cx="460.7" cy="445.0" r="1.9"/><circle cx="478.2" cy="455.3" r="1.9"/><circle cx="495.7" cy="462.2" r="1.9"/><circle cx="513.2" cy="459.5" r="1.9"/><circle cx="530.7" cy="454.3" r="1.9"/><circle cx="548.2" cy="454.5" r="1.9"/><circle cx="565.7" cy="459.6" r="1.9"/><circle cx="583.2" cy="468.4" r="1.9"/><circle cx="600.7" cy="472.2" r="1.9"/><circle cx="618.2" cy="473.8" r="1.9"/><circle cx="635.7" cy="468.4" r="1.9"/><circle cx="653.2" cy="467.0" r="1.9"/><circle cx="670.7" cy="472.6" r="1.9"/><circle cx="688.2" cy="479.5" r="1.9"/><circle cx="705.7" cy="487.8" r="1.9"/><circle cx="723.2" cy="493.0" r="1.9"/><circle cx="740.7" cy="502.4" r="1.9"/><circle cx="758.2" cy="501.0" r="1.9"/><circle cx="775.7" cy="500.3" r="1.9"/><circle cx="793.2" cy="505.6" r="1.9"/><circle cx="810.7" cy="517.0" r="1.9"/><circle cx="828.2" cy="527.5" r="1.9"/><circle cx="845.7" cy="533.7" r="1.9"/><circle cx="863.2" cy="539.4" r="1.9"/><circle cx="880.7" cy="538.9" r="1.9"/><circle cx="898.2" cy="538.5" r="1.9"/><circle cx="915.7" cy="543.1" r="1.9"/><circle cx="933.2" cy="547.7" r="1.9"/><circle cx="950.7" cy="555.0" r="1.9"/><circle cx="968.2" cy="560.5" r="1.9"/><circle cx="985.7" cy="562.9" r="1.9"/><circle cx="1003.2" cy="562.3" r="1.9"/><circle cx="1020.7" cy="560.2" r="1.9"/><circle cx="1038.2" cy="562.9" r="1.9"/><circle cx="1055.7" cy="568.1" r="1.9"/><circle cx="1073.2" cy="573.3" r="1.9"/><circle cx="1090.7" cy="576.4" r="1.9"/><circle cx="1108.2" cy="580.2" r="1.9"/><circle cx="1125.7" cy="578.9" r="1.9"/></g>
<g fill="#15607a" opacity="0.4"><circle cx="75.7" cy="492.8" r="1.9"/><circle cx="93.2" cy="479.2" r="1.9"/><circle cx="110.7" cy="463.1" r="1.9"/><circle cx="128.2" cy="448.5" r="1.9"/><circle cx="145.7" cy="440.2" r="1.9"/><circle cx="163.2" cy="431.8" r="1.9"/><circle cx="180.7" cy="424.5" r="1.9"/><circle cx="198.2" cy="412.0" r="1.9"/><circle cx="215.7" cy="397.4" r="1.9"/><circle cx="233.2" cy="384.5" r="1.9"/><circle cx="250.7" cy="433.6" r="1.9"/><circle cx="268.2" cy="424.5" r="1.9"/><circle cx="285.7" cy="417.2" r="1.9"/><circle cx="303.2" cy="415.1" r="1.9"/><circle cx="320.7" cy="422.7" r="1.9"/><circle cx="338.2" cy="421.5" r="1.9"/><circle cx="355.7" cy="420.0" r="1.9"/><circle cx="373.2" cy="421.5" r="1.9"/><circle cx="390.7" cy="420.0" r="1.9"/><circle cx="408.2" cy="425.8" r="1.9"/><circle cx="425.7" cy="433.6" r="1.9"/><circle cx="443.2" cy="415.4" r="1.9"/><circle cx="460.7" cy="442.3" r="1.9"/><circle cx="478.2" cy="451.1" r="1.9"/><circle cx="495.7" cy="458.0" r="1.9"/><circle cx="513.2" cy="456.3" r="1.9"/><circle cx="530.7" cy="451.8" r="1.9"/><circle cx="548.2" cy="455.9" r="1.9"/><circle cx="565.7" cy="461.7" r="1.9"/><circle cx="583.2" cy="470.7" r="1.9"/><circle cx="600.7" cy="474.7" r="1.9"/><circle cx="618.2" cy="477.4" r="1.9"/><circle cx="635.7" cy="474.9" r="1.9"/><circle cx="653.2" cy="476.8" r="1.9"/><circle cx="670.7" cy="480.1" r="1.9"/><circle cx="688.2" cy="486.8" r="1.9"/><circle cx="705.7" cy="499.3" r="1.9"/><circle cx="723.2" cy="502.8" r="1.9"/><circle cx="740.7" cy="506.6" r="1.9"/><circle cx="758.2" cy="509.3" r="1.9"/><circle cx="775.7" cy="505.6" r="1.9"/><circle cx="793.2" cy="510.8" r="1.9"/><circle cx="810.7" cy="522.7" r="1.9"/><circle cx="828.2" cy="528.1" r="1.9"/><circle cx="845.7" cy="533.7" r="1.9"/><circle cx="863.2" cy="538.5" r="1.9"/><circle cx="880.7" cy="536.9" r="1.9"/><circle cx="898.2" cy="537.9" r="1.9"/><circle cx="915.7" cy="542.1" r="1.9"/><circle cx="933.2" cy="546.9" r="1.9"/><circle cx="950.7" cy="555.0" r="1.9"/><circle cx="968.2" cy="559.7" r="1.9"/><circle cx="985.7" cy="561.4" r="1.9"/><circle cx="1003.2" cy="562.9" r="1.9"/><circle cx="1020.7" cy="563.9" r="1.9"/><circle cx="1038.2" cy="567.0" r="1.9"/><circle cx="1055.7" cy="571.6" r="1.9"/><circle cx="1073.2" cy="576.4" r="1.9"/><circle cx="1090.7" cy="580.0" r="1.9"/><circle cx="1108.2" cy="583.7" r="1.9"/><circle cx="1125.7" cy="582.3" r="1.9"/></g>
<g fill="#1d81a2" opacity="0.4"><circle cx="75.7" cy="465.2" r="1.9"/><circle cx="93.2" cy="460.6" r="1.9"/><circle cx="110.7" cy="450.6" r="1.9"/><circle cx="128.2" cy="442.7" r="1.9"/><circle cx="145.7" cy="439.1" r="1.9"/><circle cx="163.2" cy="438.7" r="1.9"/><circle cx="180.7" cy="435.0" r="1.9"/><circle cx="198.2" cy="428.7" r="1.9"/><circle cx="215.7" cy="422.4" r="1.9"/><circle cx="233.2" cy="410.3" r="1.9"/><circle cx="250.7" cy="462.4" r="1.9"/><circle cx="268.2" cy="444.3" r="1.9"/><circle cx="285.7" cy="427.6" r="1.9"/><circle cx="303.2" cy="417.9" r="1.9"/><circle cx="320.7" cy="414.4" r="1.9"/><circle cx="338.2" cy="412.7" r="1.9"/><circle cx="355.7" cy="403.3" r="1.9"/><circle cx="373.2" cy="396.0" r="1.9"/><circle cx="390.7" cy="393.9" r="1.9"/><circle cx="408.2" cy="393.9" r="1.9"/><circle cx="425.7" cy="399.1" r="1.9"/><circle cx="443.2" cy="418.5" r="1.9"/><circle cx="460.7" cy="413.7" r="1.9"/><circle cx="478.2" cy="428.3" r="1.9"/><circle cx="495.7" cy="433.6" r="1.9"/><circle cx="513.2" cy="436.3" r="1.9"/><circle cx="530.7" cy="432.9" r="1.9"/><circle cx="548.2" cy="436.6" r="1.9"/><circle cx="565.7" cy="443.6" r="1.9"/><circle cx="583.2" cy="452.5" r="1.9"/><circle cx="600.7" cy="457.6" r="1.9"/><circle cx="618.2" cy="463.1" r="1.9"/><circle cx="635.7" cy="462.6" r="1.9"/><circle cx="653.2" cy="464.7" r="1.9"/><circle cx="670.7" cy="470.0" r="1.9"/><circle cx="688.2" cy="475.5" r="1.9"/><circle cx="705.7" cy="484.7" r="1.9"/><circle cx="723.2" cy="490.5" r="1.9"/><circle cx="740.7" cy="496.2" r="1.9"/><circle cx="758.2" cy="496.2" r="1.9"/><circle cx="775.7" cy="498.3" r="1.9"/><circle cx="793.2" cy="504.5" r="1.9"/><circle cx="810.7" cy="511.8" r="1.9"/><circle cx="828.2" cy="520.2" r="1.9"/><circle cx="845.7" cy="526.8" r="1.9"/><circle cx="863.2" cy="533.7" r="1.9"/><circle cx="880.7" cy="535.8" r="1.9"/><circle cx="898.2" cy="537.9" r="1.9"/><circle cx="915.7" cy="543.1" r="1.9"/><circle cx="933.2" cy="548.3" r="1.9"/><circle cx="950.7" cy="557.2" r="1.9"/><circle cx="968.2" cy="564.4" r="1.9"/><circle cx="985.7" cy="569.2" r="1.9"/><circle cx="1003.2" cy="570.8" r="1.9"/><circle cx="1020.7" cy="571.6" r="1.9"/><circle cx="1038.2" cy="573.9" r="1.9"/><circle cx="1055.7" cy="576.4" r="1.9"/><circle cx="1073.2" cy="580.6" r="1.9"/><circle cx="1090.7" cy="582.7" r="1.9"/><circle cx="1108.2" cy="584.4" r="1.9"/><circle cx="1125.7" cy="583.3" r="1.9"/></g>
<g fill="#616161" opacity="0.4"><circle cx="75.7" cy="393.2" r="1.9"/><circle cx="93.2" cy="384.9" r="1.9"/><circle cx="110.7" cy="360.0" r="1.9"/><circle cx="128.2" cy="347.5" r="1.9"/><circle cx="145.7" cy="340.5" r="1.9"/><circle cx="163.2" cy="337.7" r="1.9"/><circle cx="180.7" cy="333.1" r="1.9"/><circle cx="198.2" cy="324.7" r="1.9"/><circle cx="215.7" cy="310.6" r="1.9"/><circle cx="233.2" cy="288.2" r="1.9"/><circle cx="250.7" cy="396.5" r="1.9"/><circle cx="268.2" cy="370.5" r="1.9"/><circle cx="285.7" cy="357.0" r="1.9"/><circle cx="303.2" cy="353.5" r="1.9"/><circle cx="320.7" cy="357.4" r="1.9"/><circle cx="338.2" cy="348.4" r="1.9"/><circle cx="355.7" cy="339.2" r="1.9"/><circle cx="373.2" cy="330.4" r="1.9"/><circle cx="390.7" cy="320.8" r="1.9"/><circle cx="408.2" cy="327.5" r="1.9"/><circle cx="425.7" cy="339.1" r="1.9"/><circle cx="443.2" cy="353.8" r="1.9"/><circle cx="460.7" cy="353.8" r="1.9"/><circle cx="478.2" cy="366.8" r="1.9"/><circle cx="495.7" cy="371.4" r="1.9"/><circle cx="513.2" cy="367.8" r="1.9"/><circle cx="530.7" cy="355.3" r="1.9"/><circle cx="548.2" cy="357.8" r="1.9"/><circle cx="565.7" cy="363.3" r="1.9"/><circle cx="583.2" cy="375.0" r="1.9"/><circle cx="600.7" cy="382.8" r="1.9"/><circle cx="618.2" cy="380.1" r="1.9"/><circle cx="635.7" cy="367.2" r="1.9"/><circle cx="653.2" cy="361.6" r="1.9"/><circle cx="670.7" cy="364.0" r="1.9"/><circle cx="688.2" cy="375.3" r="1.9"/><circle cx="705.7" cy="390.9" r="1.9"/><circle cx="723.2" cy="397.2" r="1.9"/><circle cx="740.7" cy="405.1" r="1.9"/><circle cx="758.2" cy="403.0" r="1.9"/><circle cx="775.7" cy="406.5" r="1.9"/><circle cx="793.2" cy="418.0" r="1.9"/><circle cx="810.7" cy="434.4" r="1.9"/><circle cx="828.2" cy="457.0" r="1.9"/><circle cx="845.7" cy="469.7" r="1.9"/><circle cx="863.2" cy="476.8" r="1.9"/><circle cx="880.7" cy="480.9" r="1.9"/><circle cx="898.2" cy="483.6" r="1.9"/><circle cx="915.7" cy="494.1" r="1.9"/><circle cx="933.2" cy="501.8" r="1.9"/><circle cx="950.7" cy="515.5" r="1.9"/><circle cx="968.2" cy="524.0" r="1.9"/><circle cx="985.7" cy="531.0" r="1.9"/><circle cx="1003.2" cy="531.1" r="1.9"/><circle cx="1020.7" cy="530.4" r="1.9"/><circle cx="1038.2" cy="535.1" r="1.9"/><circle cx="1055.7" cy="543.0" r="1.9"/><circle cx="1073.2" cy="551.0" r="1.9"/><circle cx="1090.7" cy="555.6" r="1.9"/><circle cx="1108.2" cy="558.1" r="1.9"/><circle cx="1125.7" cy="556.0" r="1.9"/></g>
<g fill="#fa8c00" opacity="0.4"><circle cx="75.7" cy="327.7" r="1.9"/><circle cx="93.2" cy="320.0" r="1.9"/><circle cx="110.7" cy="305.3" r="1.9"/><circle cx="128.2" cy="291.4" r="1.9"/><circle cx="145.7" cy="283.0" r="1.9"/><circle cx="163.2" cy="280.3" r="1.9"/><circle cx="180.7" cy="250.0" r="1.9"/><circle cx="198.2" cy="241.7" r="1.9"/><circle cx="215.7" cy="218.0" r="1.9"/><circle cx="233.2" cy="182.3" r="1.9"/><circle cx="250.7" cy="271.2" r="1.9"/><circle cx="268.2" cy="222.5" r="1.9"/><circle cx="285.7" cy="183.1" r="1.9"/><circle cx="303.2" cy="153.3" r="1.9"/><circle cx="320.7" cy="143.6" r="1.9"/><circle cx="338.2" cy="131.6" r="1.9"/><circle cx="355.7" cy="108.5" r="1.9"/><circle cx="373.2" cy="107.5" r="1.9"/><circle cx="390.7" cy="94.4" r="1.9"/><circle cx="408.2" cy="95.9" r="1.9"/><circle cx="425.7" cy="109.0" r="1.9"/><circle cx="443.2" cy="152.8" r="1.9"/><circle cx="460.7" cy="146.6" r="1.9"/><circle cx="478.2" cy="180.0" r="1.9"/><circle cx="495.7" cy="186.2" r="1.9"/><circle cx="513.2" cy="187.3" r="1.9"/><circle cx="530.7" cy="168.0" r="1.9"/><circle cx="548.2" cy="179.3" r="1.9"/><circle cx="565.7" cy="189.5" r="1.9"/><circle cx="583.2" cy="211.4" r="1.9"/><circle cx="600.7" cy="229.7" r="1.9"/><circle cx="618.2" cy="231.2" r="1.9"/><circle cx="635.7" cy="219.7" r="1.9"/><circle cx="653.2" cy="213.5" r="1.9"/><circle cx="670.7" cy="227.0" r="1.9"/><circle cx="688.2" cy="245.8" r="1.9"/><circle cx="705.7" cy="276.2" r="1.9"/><circle cx="723.2" cy="298.9" r="1.9"/><circle cx="740.7" cy="318.7" r="1.9"/><circle cx="758.2" cy="327.7" r="1.9"/><circle cx="775.7" cy="329.4" r="1.9"/><circle cx="793.2" cy="350.0" r="1.9"/><circle cx="810.7" cy="381.0" r="1.9"/><circle cx="828.2" cy="408.1" r="1.9"/><circle cx="845.7" cy="429.2" r="1.9"/><circle cx="863.2" cy="442.5" r="1.9"/><circle cx="880.7" cy="451.6" r="1.9"/><circle cx="898.2" cy="451.8" r="1.9"/><circle cx="915.7" cy="464.9" r="1.9"/><circle cx="933.2" cy="479.5" r="1.9"/><circle cx="950.7" cy="492.5" r="1.9"/><circle cx="968.2" cy="505.0" r="1.9"/><circle cx="985.7" cy="515.0" r="1.9"/><circle cx="1003.2" cy="516.0" r="1.9"/><circle cx="1020.7" cy="515.0" r="1.9"/><circle cx="1038.2" cy="522.2" r="1.9"/><circle cx="1055.7" cy="530.5" r="1.9"/><circle cx="1073.2" cy="539.9" r="1.9"/><circle cx="1090.7" cy="546.2" r="1.9"/><circle cx="1108.2" cy="549.3" r="1.9"/><circle cx="1125.7" cy="547.6" r="1.9"/></g>
<line x1="253" x2="253" y1="95.45" y2="97.55" stroke="#000" stroke-width="2.3"/><line x1="253" x2="253" y1="101.65" y2="607.3" stroke="#000" stroke-width="2.3" stroke-dasharray="2.1 2.789"/>
<text class="an" y="160.60" font-size="17.2" stroke="#fff" stroke-width="4" stroke-linejoin="round"><tspan x="51.02" textLength="63.41" lengthAdjust="spacingAndGlyphs">SERGAS</tspan> <tspan x="119.17" textLength="73.23" lengthAdjust="spacingAndGlyphs">comunica</tspan> <tspan x="196.99" textLength="41.36" lengthAdjust="spacingAndGlyphs">miles</tspan> <tspan x="243.47" textLength="19.03" lengthAdjust="spacingAndGlyphs">de</tspan> <tspan x="266.66" textLength="36.79" lengthAdjust="spacingAndGlyphs">altas</tspan></text>
<text class="an" y="180.60" font-size="17.2" stroke="#fff" stroke-width="4" stroke-linejoin="round"><tspan x="51.07" textLength="13.25" lengthAdjust="spacingAndGlyphs">el</tspan> <tspan x="68.25" textLength="59.79" lengthAdjust="spacingAndGlyphs">11/1/21</tspan></text>
<text class="an" y="160.60" font-size="17.2"><tspan x="51.02" textLength="63.41" lengthAdjust="spacingAndGlyphs">SERGAS</tspan> <tspan x="119.17" textLength="73.23" lengthAdjust="spacingAndGlyphs">comunica</tspan> <tspan x="196.99" textLength="41.36" lengthAdjust="spacingAndGlyphs">miles</tspan> <tspan x="243.47" textLength="19.03" lengthAdjust="spacingAndGlyphs">de</tspan> <tspan x="266.66" textLength="36.79" lengthAdjust="spacingAndGlyphs">altas</tspan></text>
<text class="an" y="180.60" font-size="17.2"><tspan x="51.07" textLength="13.25" lengthAdjust="spacingAndGlyphs">el</tspan> <tspan x="68.25" textLength="59.79" lengthAdjust="spacingAndGlyphs">11/1/21</tspan></text>
<text class="vl" x="1137.84" y="525.6" font-size="15.2" textLength="36.57" lengthAdjust="spacingAndGlyphs">3 290</text><text class="vl" x="1137.84" y="544.8" font-size="15.2" textLength="36.57" lengthAdjust="spacingAndGlyphs">3 210</text><text class="vl" x="1137.84" y="562.1" font-size="15.2" textLength="36.57" lengthAdjust="spacingAndGlyphs">2 041</text><text class="vl" x="1137.84" y="576.7" font-size="15.2" textLength="36.57" lengthAdjust="spacingAndGlyphs">2 950</text><text class="vl" x="1137.84" y="589.7" font-size="15.2" textLength="36.57" lengthAdjust="spacingAndGlyphs">1 935</text><text class="vl" x="1137.84" y="602.2" font-size="15.2" textLength="36.57" lengthAdjust="spacingAndGlyphs">1 895</text><text class="vl" x="1137.84" y="614.7" font-size="15.2" textLength="24.38" lengthAdjust="spacingAndGlyphs">952</text>
<text class="ft" y="686.80" font-size="13.6"><tspan x="12.22" textLength="46.99" lengthAdjust="spacingAndGlyphs">Gráfico:</tspan> <tspan x="62.55" textLength="147.47" lengthAdjust="spacingAndGlyphs">WWW.GALICIAPRESS.ES</tspan> <tspan x="213.90" dy="-1.75" font-size="9.3">•</tspan> <tspan x="220.98" dy="1.75" textLength="44.09" lengthAdjust="spacingAndGlyphs">Fuente:</tspan> <tspan x="268.59" textLength="65.63" lengthAdjust="spacingAndGlyphs">Consellería</tspan> <tspan x="339.42" textLength="13.68" lengthAdjust="spacingAndGlyphs">de</tspan> <tspan x="356.69" textLength="55.24" lengthAdjust="spacingAndGlyphs">Sanidade</tspan> <tspan x="416.40" dy="-1.75" font-size="9.3">•</tspan> <tspan x="423.08" dy="1.75" textLength="43.36" lengthAdjust="spacingAndGlyphs">Creado</tspan> <tspan x="469.68" textLength="21.67" lengthAdjust="spacingAndGlyphs">con</tspan> <tspan x="494.56" textLength="76.00" lengthAdjust="spacingAndGlyphs">Datawrapper</tspan></text>
</svg>
</body>
</html>
